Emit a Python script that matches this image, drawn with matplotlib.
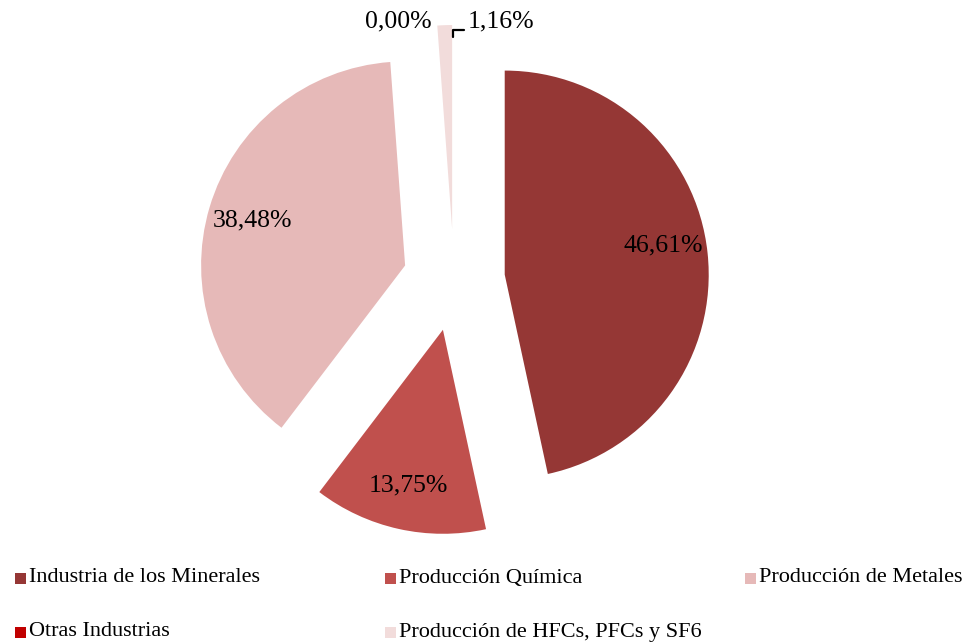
import matplotlib
matplotlib.use("Agg")
import matplotlib.pyplot as plt
from matplotlib.patches import Rectangle

categories = ["Industria de los Minerales", "Producción Química", "Producción de Metales",
              "Otras Industrias", "Producción de HFCs, PFCs y SF6"]
values = [46.61, 13.75, 38.48, 0.00, 1.16]
colors = ["#953735", "#C0504D", "#E6B9B8", "#C00000", "#F2DCDB"]

plt.rcParams['font.family'] = ['Liberation Serif', 'DejaVu Serif']

W, H = 973, 643
fig = plt.figure(figsize=(W / 100, H / 100), dpi=100)
ax = fig.add_axes([0, 0, 1, 1])

R = 204.0
cx, cy = 454.0, 280.0

def fmt(p):
    return f"{p:.2f}%".replace('.', ',')

LFS = 18.5
wedges, texts, autotexts = ax.pie(values, colors=colors, startangle=90, counterclock=False,
                                  explode=[0.25] * len(values), radius=1.0,
                                  autopct=fmt, pctdistance=0.78,
                                  textprops=dict(fontsize=LFS, color='black'),
                                  frame=True)
ax.set_xlim(-cx / R, (W - cx) / R)
ax.set_ylim((cy - H) / R, cy / R)
ax.set_aspect('auto')
ax.axis('off')

# adjust label of first slice slightly up like the reference
x0, y0 = autotexts[0].get_position()
autotexts[0].set_position((x0, y0 + 0.06))

# outside labels for the small slices
autotexts[3].set_position((-0.275, 1.265))
autotexts[4].set_visible(False)
ax.annotate(fmt(values[4]), xy=(-0.005, 1.19), xytext=(0.065, 1.265),
            fontsize=LFS, ha='left', va='center',
            arrowprops=dict(arrowstyle='-', color='black', lw=1.6,
                            connectionstyle='angle,angleA=0,angleB=90,rad=0',
                            relpos=(0, 0.15),
                            shrinkA=0, shrinkB=0))

# legend (manually laid out in 3 columns like the reference)
col_x = [15, 385, 745]
row_y = [578, 632]
for i, (lab, c) in enumerate(zip(categories, colors)):
    px = col_x[i % 3]
    py = row_y[i // 3]
    fig.add_artist(Rectangle((px / W, 1 - (py + 5.5) / H), 11 / W, 11 / H,
                             transform=fig.transFigure, facecolor=c, edgecolor='none'))
    fig.text((px + 14) / W, 1 - py / H, lab, fontsize=16, ha='left', va='center')

fig.savefig("out.png", dpi=100)
